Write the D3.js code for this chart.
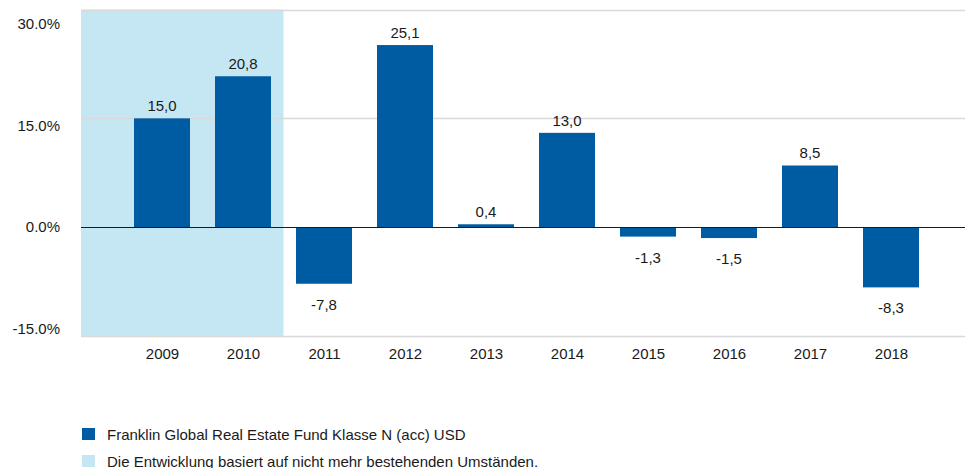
<!DOCTYPE html>
<html>
<head>
<meta charset="utf-8">
<script src="https://cdn.jsdelivr.net/npm/d3@7"></script>
<style>
  body { margin: 0; background: #fff; }
  text { font-family: "Liberation Sans", Arial, sans-serif; fill: #1a1a1a; }
</style>
</head>
<body>
<div id="chart"></div>
<script>
// chart data
var years = ["2009", "2010", "2011", "2012", "2013", "2014", "2015", "2016", "2017", "2018"];
var returns = [15.0, 20.8, -7.8, 25.1, 0.4, 13.0, -1.3, -1.5, 8.5, -8.3];
var yTicks = [30, 15, 0, -15];
var shadedYears = ["2009", "2010"];
var legendLabels = [
  "Franklin Global Real Estate Fund Klasse N (acc) USD",
  "Die Entwicklung basiert auf nicht mehr bestehenden Umständen."
];

var width = 965, height = 468;
var plotLeft = 81, plotRight = 965;

// plain hyphen as minus sign, like the original
var locale = d3.formatLocale({ decimal: ".", thousands: "", grouping: [3], currency: ["", ""], minus: "-" });
var fmtTick = locale.format(".1f");
var fmtValue = function (d) { return locale.format(".1f")(d).replace(".", ","); };

var svg = d3.select("#chart")
  .append("svg")
  .attr("width", width)
  .attr("height", height);

var x = d3.scalePoint()
  .domain(years)
  .range([162, 891]);
var step = x.step();
var barWidth = 56;

var y = d3.scaleLinear()
  .domain([-15, 30])
  .range([336, 9.5]);

// tick labels sit a bit inside the grid range
var yLabel = d3.scaleLinear()
  .domain([-15, 30])
  .range([334, 29]);

// shaded background for years no longer comparable
svg.append("rect")
  .attr("x", plotLeft)
  .attr("y", y(30))
  .attr("width", x(shadedYears[shadedYears.length - 1]) + step / 2 - plotLeft)
  .attr("height", y(-15) - y(30))
  .attr("fill", "#c5e7f3");

// grid lines
svg.append("g")
  .selectAll("line")
  .data(yTicks.filter(function (d) { return d !== 0; }))
  .enter()
  .append("line")
  .attr("x1", plotLeft)
  .attr("x2", plotRight)
  .attr("y1", function (d) { return Math.round(y(d)) + 0.5; })
  .attr("y2", function (d) { return Math.round(y(d)) + 0.5; })
  .attr("stroke", "#d9d9d9")
  .attr("stroke-width", 1.5);

// y tick labels
svg.append("g")
  .selectAll("text")
  .data(yTicks)
  .enter()
  .append("text")
  .attr("x", 60)
  .attr("y", function (d) { return yLabel(d); })
  .attr("text-anchor", "end")
  .style("font-size", "15px")
  .text(function (d) { return fmtTick(d) + "%"; });

// bars
svg.append("g")
  .selectAll("rect")
  .data(returns)
  .enter()
  .append("rect")
  .attr("x", function (d, i) { return x(years[i]) - barWidth / 2; })
  .attr("y", function (d) { return y(Math.max(0, d)); })
  .attr("width", barWidth)
  .attr("height", function (d) { return Math.abs(y(d) - y(0)); })
  .attr("fill", "#005ca2");

// zero line
svg.append("line")
  .attr("x1", plotLeft)
  .attr("x2", plotRight)
  .attr("y1", Math.round(y(0)) + 0.5)
  .attr("y2", Math.round(y(0)) + 0.5)
  .attr("stroke", "#1a1a1a")
  .attr("stroke-width", 1);

// value labels
svg.append("g")
  .selectAll("text")
  .data(returns)
  .enter()
  .append("text")
  .attr("x", function (d, i) { return x(years[i]); })
  .attr("y", function (d) { return d >= 0 ? y(d) - 7 : y(d) + 26; })
  .attr("text-anchor", "middle")
  .style("font-size", "15px")
  .text(fmtValue);

// x axis labels
var xAxis = svg.append("g")
  .attr("transform", "translate(0," + 345 + ")")
  .call(d3.axisBottom(x).tickSize(0).tickPadding(0));
xAxis.select(".domain").remove();
xAxis.selectAll("text")
  .attr("y", 14)
  .attr("dy", 0)
  .style("font-size", "15px")
  .style("font-family", "Liberation Sans, Arial, sans-serif")
  .attr("fill", "#1a1a1a");

// legend
var legendColors = ["#005ca2", "#c5e7f3"];
var legend = svg.append("g")
  .selectAll("g")
  .data(legendLabels)
  .enter()
  .append("g")
  .attr("transform", function (d, i) { return "translate(82," + (428 + i * 27) + ")"; });

legend.append("rect")
  .attr("width", 13)
  .attr("height", 12)
  .attr("fill", function (d, i) { return legendColors[i]; });

legend.append("text")
  .attr("x", 25)
  .attr("y", 11.5)
  .style("font-size", "15px")
  .text(function (d) { return d; });
</script>
</body>
</html>
